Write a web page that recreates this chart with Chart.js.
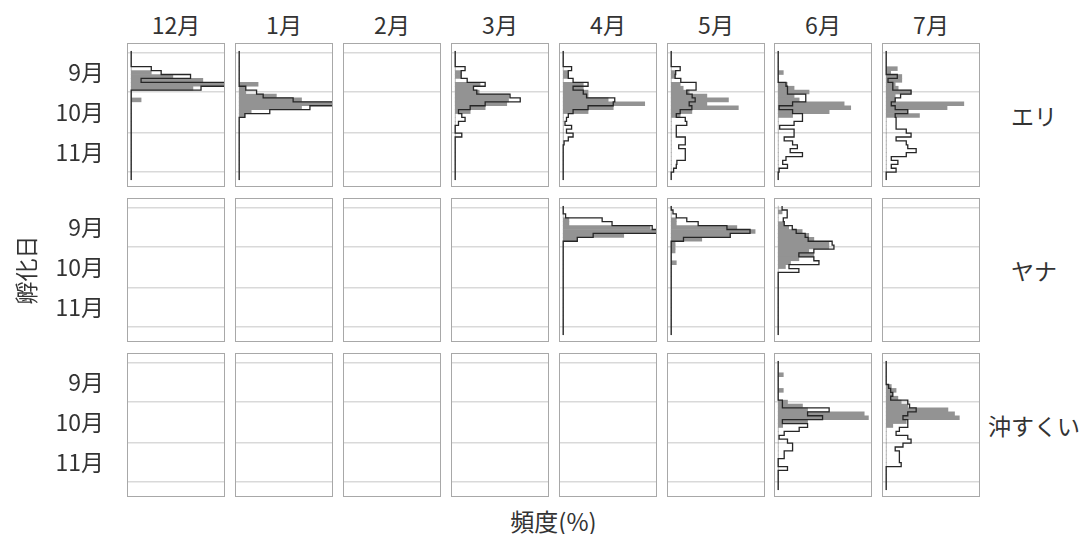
<!DOCTYPE html>
<html lang="ja">
<head>
<meta charset="utf-8">
<title>孵化日の頻度分布</title>
<script src="https://cdn.jsdelivr.net/npm/chart.js@4.4.1/dist/chart.umd.min.js"></script>
<style>
  html, body { margin: 0; padding: 0; background: #ffffff; }
  #fig {
    position: relative; width: 1086px; height: 534px; overflow: hidden;
    font-family: "Noto Sans CJK JP", sans-serif; color: #333333;
  }
  #fig canvas { position: absolute; }
  .lbl {
    position: absolute; font-size: 23px; line-height: 1; white-space: nowrap;
    transform: translate(-50%, -50%);
  }
  .lbl.axis { font-size: 24px; }
</style>
</head>
<body>
<div id="fig"></div>
<script>
// ---- categories and tick labels ----
const catchMonths = ['12月', '1月', '2月', '3月', '4月', '5月', '6月', '7月'];
const gears = ['エリ', 'ヤナ', '沖すくい'];
const hatchMonthLabels = ['9月', '10月', '11月'];
// days counted from 1 September
const hatchMonthMidDays = [15, 45.5, 76];
const monthBoundaryDays = [0, 30, 61, 91];
// centres of the 3-day hatching-date bins
const binCenterDays = [0, 3, 6, 9, 12, 15, 18, 21, 24, 27, 30, 33, 36, 39, 42, 45, 48,
  51, 54, 57, 60, 63, 66, 69, 72, 75, 78, 81, 84, 87, 90, 93, 96];

// ---- frequencies (%) per bin: filled histogram and outlined histogram ----
// エリ
const eriDecFill = [0,0,0,0,0,6.7,13.9,23.9,31.5,20.6,0, 0,3.3,0,0,0,0,0,0,0,0,0, 0,0,0,0,0,0,0,0,0,0,0];
const eriDecStep = [0,0,0,0,6.7,10,19.8,3.3,32,23.3,0, 0,0,0,0,0,0,0,0,0,0,0, 0,0,0,0,0,0,0,0,0,0,0];
const eriJanFill = [0,0,0,0,0,0,0,0,6.3,2,2.2, 12.4,20.8,31.3,20.8,4,1.9,0,0,0,0,0, 0,0,0,0,0,0,0,0,0,0,0];
const eriJanStep = [0,0,0,0,0,0,0,0,0,2.2,5.8, 8,18,32,23.6,10.2,1.9,0,0,0,0,0, 0,0,0,0,0,0,0,0,0,0,0];
const eriMarFill = [0,0,0,0,0,1.9,1.9,0,8.3,6.1,8, 18,17.8,17.2,10,5,0,0,0,0,0,0, 0,0,0,0,0,0,0,0,0,0,0];
const eriMarStep = [0,0,0,0,3.3,2,2,4,10,6.1,7.2, 18.3,21.7,10,5,1.1,2.2,3.3,1.1,0,0,2.2, 0,0,0,0,0,0,0,0,0,0,0];
const eriAprFill = [0,0,0,0,0,1.7,1.7,0,6.7,6.7,8.3, 8.3,15,27.2,16.7,8.3,0,0,0,0,0,0, 0,0,0,0,0,0,0,0,0,0,0];
const eriAprStep = [0,0,0,0,2.8,1.7,1.7,3.3,8.3,3.3,6.7, 7.8,17.2,16.7,8.3,3.3,1.7,1.1,0.6,2.8,1.1,3.3, 1.7,0.3,0,0,0,0,0,0,0,0,0];
const eriMayFill = [0,0,0,0,0,1.3,1.3,0,3,4,6, 11.9,19.1,11.9,22.4,6.9,3,0,0,0,0,0, 0,0,0,0,0,0,0,0,0,0,0];
const eriMayStep = [0,0,0,0,3,1.5,1.3,3.2,8.3,8.3,5.2, 7,8,6,6.9,3,1.7,4.7,5.2,1.7,1.7,1.7, 4.7,4.7,2.5,4.7,4.7,4.7,1.9,1.7,0.8,0,0];
const eriJunFill = [0,0,0,0,0,1.7,0,0,3,5.3,10.3, 5.3,7,22,24.2,17,4.8,0,0,0,0,0, 0,0,0,0,0,0,0,0,0,0,0];
const eriJunStep = [0,0,0,0,0,0,0,0,2.6,3.1,3.1, 9.2,9.2,4.8,0.3,4.8,8.1,8.1,5.3,0.5,5.3,5.3, 2,4.8,6.4,4,8.1,2.6,1.5,3.1,0.3,0,0];
const eriJulFill = [0,0,0,0,3.7,1.5,5.2,5.2,3,4,8.3, 3,3,25.9,20.3,7.2,11.1,0,0,0,0,0, 0,0,0,0,0,0,0,0,0,0,0];
const eriJulStep = [0,0,0,0,0,0,3.7,0.6,2.2,2.2,8.3, 4.8,3,1.7,3,7.2,3,3.3,3.3,3.3,6.7,8.3, 3.3,6.7,7.2,10,6.7,1.7,3.9,1.7,3.3,0,0];
// ヤナ
const yanaAprFill = [0,0,0,1.9,1.9,29,31.3,20.2,4.7,0,0, 0,0,0,0,0,0,0,0,0,0,0, 0,0,0,0,0,0,0,0,0,0,0];
const yanaAprStep = [0,0,0.8,13,16.3,29.7,32,10,4.7,0,0, 0,0,0,0,0,0,0,0,0,0,0, 0,0,0,0,0,0,0,0,0,0,0];
const yanaMayFill = [0,0,0,1.7,1.7,21.9,28,19.7,10.2,1.3,1.3, 1.3,0,0,1.7,0,0,0,0,0,0,0, 0,0,0,0,0,0,0,0,0,0,0];
const yanaMayStep = [0,0.6,1.7,5.2,9,18.6,26.3,19.7,4.1,0,0, 0,0,0,0,0,0,0,0,0,0,0, 0,0,0,0,0,0,0,0,0,0,0];
const yanaJunFill = [0,1.3,0,0,2,3.5,8,10.2,11.9,16.9,16.9, 10.2,11.9,6.9,4.1,2.4,0,0,0,0,0,0, 0,0,0,0,0,0,0,0,0,0,0];
const yanaJunStep = [1.3,3,3,1.7,2,4.7,6,9,10,18,18.6, 11.9,6.9,11.9,13.6,3.6,6.9,0,0,0,0,0, 0,0,0,0,0,0,0,0,0,0,0];
// 沖すくい
const okiJunFill = [0,0,0,1.7,0,0,0,1.7,0,0,3.1, 8.1,9.8,28.7,30.1,9.8,1.5,0,0,0,0,0, 0,0,0,0,0,0,0,0,0,0,0];
const okiJunStep = [0,0,0,0,0,0,0,0,0,0,1.4, 1.4,17,9.8,14.8,1.4,9.8,7,2,0.3,3.1,4.8, 4.8,2,2,0,0,3.1,0,0,0,0,0];
const okiJulFill = [0,0,0,0,0,0,1.7,3.3,2.2,3.9,5, 7.2,20.6,22.8,24.4,6.7,2.2,0,0,0,0,0, 0,0,0,0,0,0,0,0,0,0,0];
const okiJulStep = [0,0,0,0,0,0,0.8,1.5,2.2,1.5,7.2, 7.8,10,7.2,5.6,7.2,7.2,4.4,3.3,7.2,8.3,5.6, 3,4.4,4.4,4.4,5,0,0,0,0,0,0];

// which panels carry data: [fill, outline]
const panelSeries = {
  'エリ': {
    '12月': [eriDecFill, eriDecStep], '1月': [eriJanFill, eriJanStep],
    '3月': [eriMarFill, eriMarStep], '4月': [eriAprFill, eriAprStep],
    '5月': [eriMayFill, eriMayStep], '6月': [eriJunFill, eriJunStep],
    '7月': [eriJulFill, eriJulStep]
  },
  'ヤナ': {
    '4月': [yanaAprFill, yanaAprStep], '5月': [yanaMayFill, yanaMayStep],
    '6月': [yanaJunFill, yanaJunStep]
  },
  '沖すくい': {
    '6月': [okiJunFill, okiJunStep], '7月': [okiJulFill, okiJulStep]
  }
};

// ---- layout and styling ----
const FONT = '"Noto Sans CJK JP", sans-serif';
const TEXT_COLOR = '#333333';
const LABEL_SIZE = 23;
const PANEL_W = 98, PANEL_H = 144;
const colLeft = i => Math.round(127.3 + 107.85 * i);
const rowTop = j => Math.round(43 + 154.85 * j);
const X_MIN = -1.4, X_MAX = 31.3;
const Y_MIN = -7.7, Y_MAX = 102.9;
const BIN_HALF = 1.5;

Chart.defaults.font.family = FONT;
Chart.defaults.color = TEXT_COLOR;

const fig = document.getElementById('fig');

// frame around each panel's plotting area
const panelFrame = {
  id: 'panelFrame',
  afterDraw(chart) {
    const { ctx, chartArea: a } = chart;
    ctx.save();
    ctx.strokeStyle = '#a8a8a8';
    ctx.lineWidth = 1;
    ctx.strokeRect(a.left + 0.5, a.top + 0.5, a.right - a.left - 1, a.bottom - a.top - 1);
    ctx.restore();
  }
};

// outline of a histogram drawn as a stepped line through the bin edges
function stepOutline(values) {
  const pts = values.map((v, i) => ({ x: v, y: binCenterDays[i] - BIN_HALF }));
  pts.push({ x: values[values.length - 1], y: binCenterDays[binCenterDays.length - 1] + BIN_HALF });
  return pts;
}

function addLabel(text, x, y, cls) {
  const d = document.createElement('div');
  d.className = 'lbl' + (cls ? ' ' + cls : '');
  d.textContent = text;
  d.style.left = x + 'px';
  d.style.top = y + 'px';
  fig.appendChild(d);
}

function makePanel(row, col) {
  const gear = gears[row];
  const month = catchMonths[col];
  const series = (panelSeries[gear] || {})[month];
  const first = col === 0;
  const left = first ? 0 : colLeft(col);
  const width = first ? colLeft(0) + PANEL_W : PANEL_W;

  const canvas = document.createElement('canvas');
  canvas.width = width;
  canvas.height = PANEL_H;
  canvas.style.left = left + 'px';
  canvas.style.top = rowTop(row) + 'px';
  canvas.style.width = width + 'px';
  canvas.style.height = PANEL_H + 'px';
  fig.appendChild(canvas);

  const datasets = [];
  if (series) {
    const [fill, step] = series;
    datasets.push({
      type: 'line',
      data: stepOutline(step),
      xAxisID: 'x', yAxisID: 'y',
      stepped: 'after',
      borderColor: '#262626',
      borderWidth: 1.3,
      pointRadius: 0,
      fill: false,
      order: 0
    });
    datasets.push({
      type: 'bar',
      data: binCenterDays.map((d, i) => ({ x: fill[i], y: d })),
      xAxisID: 'x', yAxisID: 'y',
      backgroundColor: '#939393',
      borderWidth: 0,
      barPercentage: 1,
      categoryPercentage: 1,
      order: 1
    });
  }

  const scales = {
    x: {
      type: 'linear', min: X_MIN, max: X_MAX, offset: false, display: false
    },
    y: {
      type: 'linear', position: 'left', reverse: true, min: Y_MIN, max: Y_MAX, offset: false,
      afterBuildTicks: s => { s.ticks = monthBoundaryDays.map(v => ({ value: v })); },
      grid: { color: '#d9d9d9', lineWidth: 1.5, drawTicks: false, offset: false },
      border: { display: false },
      ticks: { display: false }
    }
  };

  if (first) {
    scales.yl = {
      type: 'linear', position: 'left', reverse: true, min: Y_MIN, max: Y_MAX, offset: false,
      afterBuildTicks: s => { s.ticks = hatchMonthMidDays.map(v => ({ value: v })); },
      afterFit: s => {
        // labels sit in the left margin; keep the plotting area full height
        s.width = colLeft(0);
        s.paddingTop = 0;
        s.paddingBottom = 0;
      },
      grid: { display: false, drawTicks: false },
      border: { display: false },
      ticks: {
        autoSkip: false,
        padding: 23,
        color: TEXT_COLOR,
        font: { family: FONT, size: LABEL_SIZE },
        callback: (v, i) => hatchMonthLabels[i]
      },
      title: {
        display: row === 1,
        text: '孵化日',
        color: TEXT_COLOR,
        font: { family: FONT, size: LABEL_SIZE },
        padding: { top: 12, bottom: 0 }
      }
    };
  }

  new Chart(canvas, {
    type: 'bar',
    data: { datasets },
    options: {
      indexAxis: 'y',
      responsive: false,
      animation: false,
      devicePixelRatio: 1,
      events: [],
      layout: { padding: 0 },
      plugins: { legend: { display: false }, tooltip: { enabled: false } },
      scales
    },
    plugins: [panelFrame]
  });
}

for (let r = 0; r < gears.length; r++) {
  for (let c = 0; c < catchMonths.length; c++) makePanel(r, c);
}

// column headers, row labels and the frequency axis title
catchMonths.forEach((m, c) => addLabel(m, colLeft(c) + PANEL_W / 2, 24));
gears.forEach((g, r) => addLabel(g, 1034, rowTop(r) + PANEL_H / 2));
addLabel('頻度(%)', (colLeft(0) + colLeft(catchMonths.length - 1) + PANEL_W) / 2, 521, 'axis');
</script>
</body>
</html>
